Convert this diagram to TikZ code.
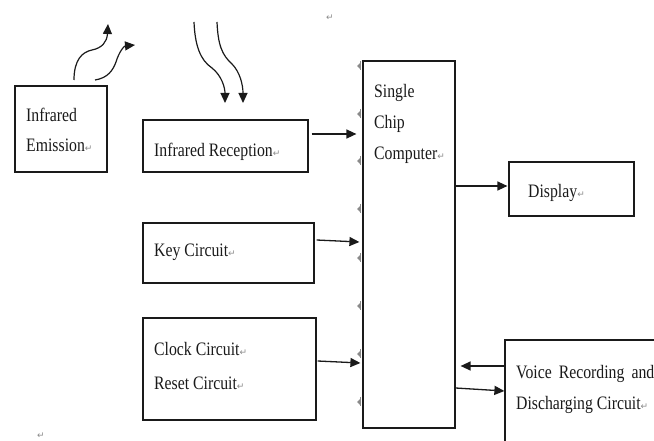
\documentclass[tikz,border=0pt]{standalone}
\usepackage{fontspec}
\setmainfont{Liberation Serif}[FakeStretch=0.83]
\newfontfamily\markfont{DejaVu Sans}
\usetikzlibrary{arrows.meta,positioning}
\definecolor{ink}{HTML}{1A1A1A}
\definecolor{markgray}{HTML}{8A8A8A}
\newcommand{\pmark}{{\markfont\fontsize{9}{9}\selectfont\color{markgray}↵}}

\begin{document}
\begin{tikzpicture}[
  x=1pt,y=-1pt,
  blk/.style={draw=ink,line width=1.2pt,inner sep=0pt},
  lbl/.style={anchor=base west,inner sep=0pt,text=ink,
              font=\fontsize{19}{30}\selectfont},
  link/.style={-{Triangle[length=10pt,width=9pt]},line width=1.3pt,draw=ink},
  wave/.style={-{Triangle[length=10pt,width=9pt]},line width=1.2pt,draw=ink}
]
  \useasboundingbox (0,0) rectangle (654,441);
  \clip (0,0) rectangle (654,441);

  % blocks
  \node[blk,minimum width=92pt,minimum height=86pt] (emit) at (61,129) {};
  \node[blk,minimum width=165pt,minimum height=52pt] (rec) at (225.5,146) {};
  \node[blk,minimum width=92pt,minimum height=367pt] (chip) at (409,244.5) {};
  \node[blk,minimum width=125pt,minimum height=54pt] (disp) at (571.5,189) {};
  \node[blk,minimum width=171pt,minimum height=60pt] (key) at (228.5,253) {};
  \node[blk,minimum width=173pt,minimum height=102pt] (clk) at (229.5,369) {};
  \node[blk,minimum width=175pt,minimum height=130pt] (voice) at (592.5,405) {};

  % texts
  \node[lbl] (emitA) at (26,122) {Infrared};
  \node[lbl] (emitB) at (26,152) {Emission\pmark};
  \node[lbl] (recT) at (154,157) {Infrared Reception\pmark};
  \node[lbl] (chipA) at (374,98) {Single};
  \node[lbl] (chipB) at (374,129) {Chip};
  \node[lbl] (chipC) at (374,160) {Computer\pmark};
  \node[lbl] (dispT) at (528,198) {Display\pmark};
  \node[lbl] (keyT) at (154,257) {Key Circuit\pmark};
  \node[lbl] (clkA) at (154,355) {Clock Circuit\pmark};
  \node[lbl] (clkB) at (154,389) {Reset Circuit\pmark};
  \node[lbl] (voiceA) at (516,378) {Voice\hspace{7pt}Recording\hspace{7pt}and};
  \node[lbl] (voiceB) at (516,409) {Discharging Circuit\pmark};
  \node[lbl] (markTop) at (326,21) {\pmark};
  \node[lbl] (markBot) at (37,438) {\pmark};

  % anchor marks
  \foreach \y in {66,114,161,209,258,306,354,402}{
    \fill[markgray] (357,\y) -- (360,\y-3) -- (361,\y) -- (360,\y+3) -- cycle;
    \draw[markgray,line width=1pt] (360,\y-5) -- (360,\y+4);
  }

  % links
  \draw[link] ([xshift=3pt,yshift=12pt]rec.east) -- ([xshift=-6pt,yshift=12pt]rec.east -| chip.west);
  \draw[link] ([xshift=2pt,yshift=13pt]key.east) -- ([xshift=-3pt,yshift=11pt]key.east -| chip.west);
  \draw[link] ([xshift=1pt,yshift=8pt]clk.east) -- ([xshift=-2pt,yshift=6pt]clk.east -| chip.west);
  \draw[link] ([yshift=3pt]disp.west -| chip.east) -- ([xshift=-1pt,yshift=3pt]disp.west);
  \draw[link] ([yshift=39pt]voice.west) -- ([xshift=5pt,yshift=39pt]voice.west -| chip.east);
  \draw[link] ([yshift=17pt]voice.west -| chip.east) -- ([yshift=14pt]voice.west);

  % infrared waves
  \coordinate (outA) at (74,80);
  \coordinate (outAtip) at (108,24);
  \coordinate (outB) at (95,80);
  \coordinate (outBtip) at (135,45);
  \coordinate (inA) at (194,22);
  \coordinate (inAtip) at (225,103);
  \coordinate (inB) at (217,22);
  \coordinate (inBtip) at (243,103);
  \draw[wave] (outA) .. controls (74,60) and (82,52) .. (92,50)
    .. controls (102,48) and (107,42) .. (outAtip);
  \draw[wave] (outB) .. controls (108,78) and (113,70) .. (116,62)
    .. controls (119,52) and (124,46) .. (outBtip);
  \draw[wave] (inA) .. controls (195,45) and (200,60) .. (212,68)
    .. controls (222,76) and (225,88) .. (inAtip);
  \draw[wave] (inB) .. controls (218,45) and (222,55) .. (232,64)
    .. controls (240,72) and (243,85) .. (inBtip);
\end{tikzpicture}
\end{document}
